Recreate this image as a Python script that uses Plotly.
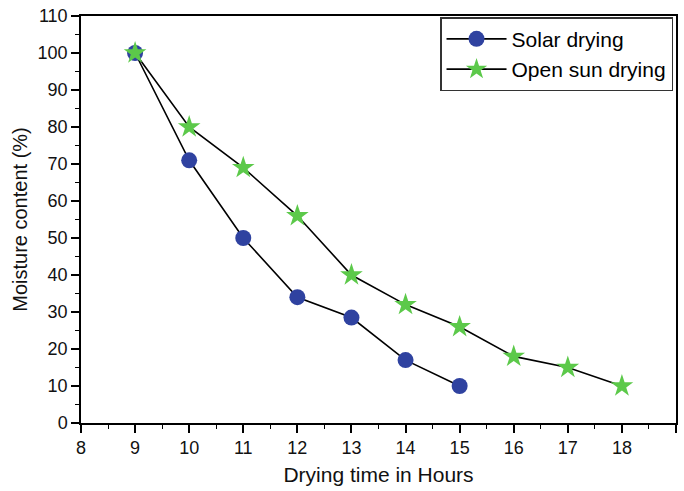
import plotly.graph_objects as go

# Drying curves: moisture content vs. time of day
solar_hours = [9, 10, 11, 12, 13, 14, 15]
solar_moisture = [100, 71, 50, 34, 28.5, 17, 10]

open_hours = [9, 10, 11, 12, 13, 14, 15, 16, 17, 18]
open_moisture = [100, 80, 69, 56, 40, 32, 26, 18, 15, 10]

x_ticks = list(range(8, 20))
y_ticks = list(range(0, 111, 10))

FONT = "Liberation Sans, Arial, sans-serif"

fig = go.Figure()
fig.add_trace(go.Scatter(
    x=solar_hours, y=solar_moisture, name="Solar drying",
    mode="lines+markers",
    line=dict(color="black", width=1.6),
    marker=dict(symbol="circle", size=16, color="#2F42A0"),
))
fig.add_trace(go.Scatter(
    x=open_hours, y=open_moisture, name="Open sun drying",
    mode="lines+markers",
    line=dict(color="black", width=1.6),
    marker=dict(symbol="star", size=17, color="#5CC94A"),
))

axis_common = dict(
    showgrid=False, zeroline=False,
    showline=True, linecolor="black", linewidth=1.5, mirror=True,
    ticks="outside", ticklen=8, tickwidth=1.5, tickcolor="black",
    tickfont=dict(family=FONT, size=18, color="#111"),
)

fig.update_xaxes(
    range=[8, 19], tickvals=x_ticks,
    minor=dict(ticks="outside", ticklen=4, tickwidth=1.3, tickcolor="black", dtick=0.5),
    title=dict(text="Drying time in Hours", font=dict(family=FONT, size=21, color="#111"), standoff=10),
    **axis_common,
)
fig.update_yaxes(
    range=[0, 110], tickvals=y_ticks,
    minor=dict(ticks="outside", ticklen=4, tickwidth=1.3, tickcolor="black", dtick=5),
    title=dict(text="Moisture content (%)", font=dict(family=FONT, size=20, color="#111"), standoff=5),
    **axis_common,
)

fig.update_layout(
    width=684, height=491,
    margin=dict(l=81, r=6, t=11, b=68),
    paper_bgcolor="white", plot_bgcolor="white",
    showlegend=True,
    legend=dict(
        x=0.995, y=0.997, xanchor="right", yanchor="top",
        bordercolor="#333", borderwidth=1.5, bgcolor="white",
        font=dict(family=FONT, size=21, color="black"),
        itemwidth=60, tracegroupgap=0,
    ),
)

fig.write_html("out.html")
